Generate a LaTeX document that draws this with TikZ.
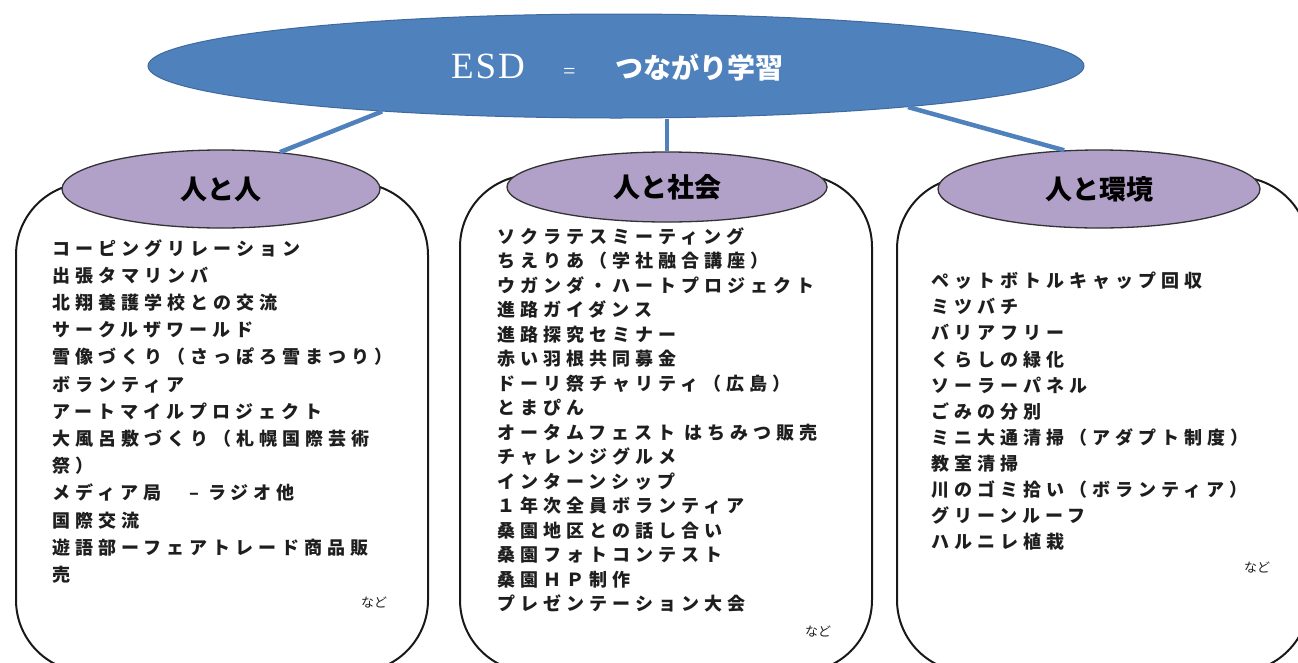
\documentclass[tikz,border=0pt]{standalone}
\usepackage{fontspec}
\usetikzlibrary{shapes.geometric}
\newfontfamily\jp{Noto Sans CJK JP}
\newfontfamily\jplist[LetterSpace=28]{Noto Sans CJK JP}
\newfontfamily\esdserif[LetterSpace=5]{Liberation Serif}
\definecolor{esdblue}{HTML}{4F81BD}
\definecolor{esdedge}{HTML}{3F6A9E}
\definecolor{lilac}{HTML}{B1A0C7}
\definecolor{ink}{HTML}{1E1E1E}
\tikzset{
  bigoval/.style={ellipse, fill=esdblue, draw=esdedge, line width=1pt, inner sep=0pt},
  catoval/.style={ellipse, fill=lilac, draw=black!80, line width=1.3pt, inner sep=0pt,
    minimum width=320pt, text=black, font={\jp\bfseries\fontsize{27}{30}\selectfont}},
  panel/.style={rectangle, rounded corners=72pt, draw=black!90, line width=2pt, fill=white,
    minimum width=412pt, inner sep=0pt},
  link/.style={esdblue, line width=4.5pt},
  itemlist/.style={anchor=north west, align=left, inner sep=0pt, text=ink},
  etc/.style={inner sep=0pt, text=ink, font={\jp\fontsize{13}{15}\selectfont}}
}
\begin{document}
\begin{tikzpicture}[x=1pt,y=-1pt]
\useasboundingbox (0,0) rectangle (1298,662);
\clip (0,0) rectangle (1298,662);
\fill[white] (0,0) rectangle (1298,662);
% panels
\node[panel, minimum height=489pt] (b1) at (222,427.5) {};
\node[panel, minimum height=497pt] (b2) at (666,423.5) {};
\node[panel, minimum height=495pt] (b3) at (1103,424.5) {};
% category ovals
\node[catoval, minimum width=318pt, minimum height=78pt] (p1) at (221,189) {人と人};
\node[catoval, minimum width=320pt, minimum height=70pt] (p2) at (667,187) {人と社会};
\node[catoval, minimum width=322pt, minimum height=78pt] (p3) at (1099,189) {人と環境};
% main oval
\node[bigoval, minimum width=936pt, minimum height=104pt] (esd) at (616,66) {};
\node[anchor=base west, inner sep=0pt, text=white] (esdtxt) at (451,78)
  {\makebox[112pt][l]{\esdserif\fontsize{37}{42}\selectfont ESD}\makebox[52pt][l]{\esdserif\fontsize{22}{24}\selectfont =}{\jp\bfseries\fontsize{28}{32}\selectfont つながり学習}};
% connectors
\draw[link] (esd.191.5) -- (p1.32);
\draw[link] (p2.north |- esd.south) -- (p2.north);
\draw[link] (esd.352.6) -- (p3.132);
% lists
\node[itemlist, font={\jplist\bfseries\fontsize{18}{27.2}\selectfont}] (l1) at (52,239) {%
コーピングリレーション\\
出張タマリンバ\\
北翔養護学校との交流\\
サークルザワールド\\
雪像づくり（さっぽろ雪まつり）\\
ボランティア\\
アートマイルプロジェクト\\
大風呂敷づくり（札幌国際芸術\\
祭）\\
メディア局　– ラジオ他\\
国際交流\\
遊語部ーフェアトレード商品販\\
売};
\node[itemlist, font={\jplist\bfseries\fontsize{18}{24.5}\selectfont}] (l2) at (497,227) {%
ソクラテスミーティング\\
ちえりあ（学社融合講座）\\
ウガンダ・ハートプロジェクト\\
進路ガイダンス\\
進路探究セミナー\\
赤い羽根共同募金\\
ドーリ祭チャリティ（広島）\\
とまぴん\\
オータムフェスト はちみつ販売\\
チャレンジグルメ\\
インターンシップ\\
１年次全員ボランティア\\
桑園地区との話し合い\\
桑園フォトコンテスト\\
桑園ＨＰ制作\\
プレゼンテーション大会};
\node[itemlist, font={\jplist\bfseries\fontsize{18}{26.1}\selectfont}] (l3) at (931,272) {%
ペットボトルキャップ回収\\
ミツバチ\\
バリアフリー\\
くらしの緑化\\
ソーラーパネル\\
ごみの分別\\
ミニ大通清掃（アダプト制度）\\
教室清掃\\
川のゴミ拾い（ボランティア）\\
グリーンルーフ\\
ハルニレ植栽};
% etc labels
\node[etc] (n1) at (374,603) {など};
\node[etc] (n2) at (818,632) {など};
\node[etc] (n3) at (1257,568) {など};
\end{tikzpicture}
\end{document}
